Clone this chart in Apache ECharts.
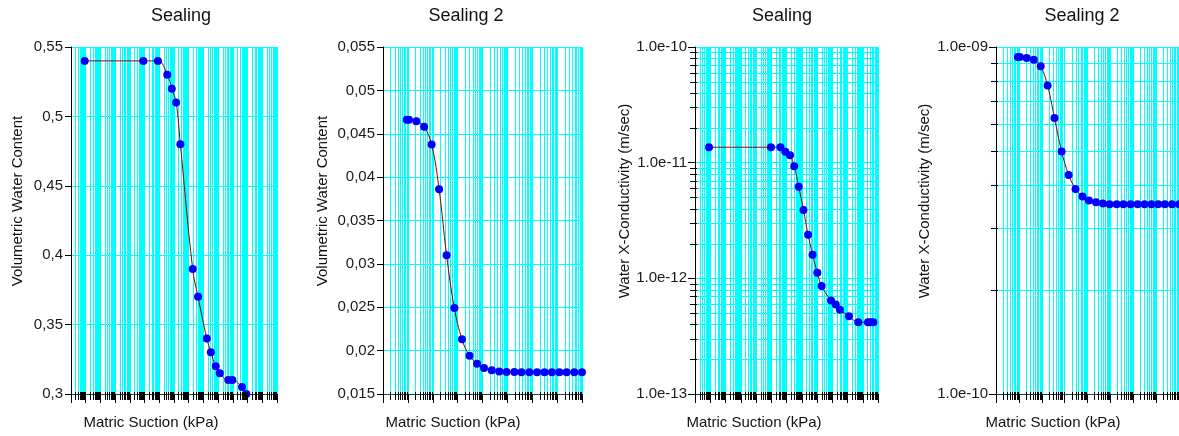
<!DOCTYPE html>
<html><head><meta charset="utf-8">
<script src="https://cdn.jsdelivr.net/npm/echarts@6/dist/echarts.min.js"></script>
<style>html,body{margin:0;padding:0;background:#fff}#c{width:1179px;height:436px}</style>
</head><body><div id="c"></div><script>
// ---------- DATA ----------
const panelTitles = ['Sealing', 'Sealing 2', 'Sealing', 'Sealing 2'];
const xAxisName = 'Matric Suction (kPa)';
const yAxisNames = ['Volumetric Water Content', 'Volumetric Water Content',
  'Water X-Conductivity (m/sec)', 'Water X-Conductivity (m/sec)'];

// Panel 1: Sealing - volumetric water content
const sealingVwcSuction = [0.085, 830, 8100, 35000, 71000, 140000, 270000, 1.86e6, 4.3e6,
  1.7e7, 3.2e7, 6.9e7, 1.3e8, 4.9e8, 9.3e8, 4.2e9, 8.3e9];
const sealingVwc = [0.54, 0.54, 0.54, 0.53, 0.52, 0.51, 0.48, 0.39, 0.37,
  0.34, 0.33, 0.32, 0.315, 0.31, 0.31, 0.305, 0.30];

// Panels 2 & 4: Sealing 2
const sealing2Suction = [0.09, 0.11, 0.22, 0.45, 0.9, 1.8, 3.6, 7.4, 15, 30, 60, 115, 235, 470,
  930, 1900, 3700, 7600, 15500, 31000, 62000, 123000, 240000, 490000, 1000000];
const sealing2Vwc = [0.0466, 0.0466, 0.04645, 0.0458, 0.04375, 0.0386, 0.031, 0.0249, 0.0213,
  0.0194, 0.0185, 0.0180, 0.01775, 0.0176, 0.01755, 0.01755, 0.0175, 0.0175, 0.0175, 0.0175,
  0.0175, 0.0175, 0.0175, 0.0175, 0.0175];
const sealing2K = [9.36e-10, 9.36e-10, 9.30e-10, 9.19e-10, 8.80e-10, 7.74e-10, 6.24e-10, 5.00e-10,
  4.28e-10, 3.90e-10, 3.71e-10, 3.61e-10, 3.57e-10, 3.54e-10, 3.52e-10, 3.52e-10, 3.52e-10,
  3.52e-10, 3.52e-10, 3.52e-10, 3.52e-10, 3.52e-10, 3.52e-10, 3.52e-10, 3.52e-10];

// Panel 3: Sealing - conductivity
const sealingKSuction = [0.083, 950, 4000, 8300, 17000, 32000, 63000, 130000, 260000, 510000,
  1.05e6, 2.0e6, 8.3e6, 1.7e7, 3.2e7, 1.26e8, 5.1e8, 2.2e9, 3.3e9, 4.9e9];
const sealingK = [1.36e-11, 1.36e-11, 1.36e-11, 1.24e-11, 1.16e-11, 9.3e-12, 6.2e-12, 3.9e-12,
  2.38e-12, 1.60e-12, 1.12e-12, 8.6e-13, 6.44e-13, 5.95e-13, 5.35e-13, 4.71e-13, 4.18e-13,
  4.18e-13, 4.18e-13, 4.18e-13];

// Tick labels
const sealingKTickLabels = ['1.0e-13', '1.0e-12', '1.0e-11', '1.0e-10'];
const sealing2KTickLabels = ['1.0e-10', '1.0e-09'];

// ---------- LAYOUT / STYLE ----------
const FONT = "'Liberation Sans', Arial, sans-serif";
const CYAN = '#00ffff';
const TOP = 47, H = 347;
const panels = [
  { left: 71, width: 206, xExp: [-2, 12], x: sealingVwcSuction, y: sealingVwc, ylog: false,
    ymin: 0.3, ymax: 0.55, yint: 0.05, titleX: 181, xNameX: 151, yNameX: 18 },
  { left: 383, width: 199, xExp: [-2, 6], x: sealing2Suction, y: sealing2Vwc, ylog: false,
    ymin: 0.015, ymax: 0.055, yint: 0.005, titleX: 466, xNameX: 453, yNameX: 323 },
  { left: 695, width: 183, xExp: [-2, 10], x: sealingKSuction, y: sealingK, ylog: true,
    yExp: [-13, -10], labels: sealingKTickLabels, titleX: 782, xNameX: 754, yNameX: 625 },
  { left: 996, width: 186, xExp: [-2, 6], x: sealing2Suction, y: sealing2K, ylog: true,
    yExp: [-10, -9], labels: sealing2KTickLabels, titleX: 1082, xNameX: 1053, yNameX: 925 }
];

const commaFmt = v => String(+(+v).toFixed(4)).replace('.', ',');
const HIDDEN = {
  show: false,
  axisLine: { show: false }, axisTick: { show: false }, axisLabel: { show: false },
  splitLine: { show: false }, minorTick: { show: false }, minorSplitLine: { show: false }
};

const grid = [], xAxis = [], yAxis = [], series = [], graphic = [];
panels.forEach((p, i) => {
  grid.push({ left: p.left, top: TOP, width: p.width, height: H, containLabel: false });
  const [xlo, xhi] = p.xExp;
  p.mainX = xAxis.length;
  xAxis.push(Object.assign({ gridIndex: i, type: 'log', logBase: 10, min: Math.pow(10, xlo), max: Math.pow(10, xhi) }, HIDDEN));
  // decade ticks / gridlines
  xAxis.push({ gridIndex: i, type: 'value', position: 'bottom', min: xlo, max: xhi, interval: 1,
    axisLine: { show: true, onZero: false, lineStyle: { color: '#0b4a4a', width: 1 } },
    axisTick: { show: true, length: 9, lineStyle: { color: '#000' } },
    axisLabel: { show: false },
    splitLine: { show: true, lineStyle: { color: CYAN, width: 1 } } });

  if (!p.ylog) {
    p.mainY = yAxis.length;
    yAxis.push({ gridIndex: i, type: 'value', position: 'left', min: p.ymin, max: p.ymax, interval: p.yint,
      axisLine: { show: true, onZero: false, lineStyle: { color: '#000' } },
      axisTick: { show: true, length: 6, lineStyle: { color: '#000' } },
      axisLabel: { fontSize: 15, color: '#1a1a1a', margin: 8, fontFamily: FONT, formatter: commaFmt },
      splitLine: { show: true, lineStyle: { color: CYAN, width: 1 } } });
  } else {
    const [ylo, yhi] = p.yExp;
    p.mainY = yAxis.length;
    yAxis.push(Object.assign({ gridIndex: i, type: 'log', logBase: 10, min: Math.pow(10, ylo), max: Math.pow(10, yhi) }, HIDDEN));
    const labs = p.labels;
    yAxis.push({ gridIndex: i, type: 'value', position: 'left', min: ylo, max: yhi, interval: 1,
      axisLine: { show: true, onZero: false, lineStyle: { color: '#000' } },
      axisTick: { show: true, length: 7, lineStyle: { color: '#000' } },
      axisLabel: { fontSize: 15, color: '#1a1a1a', margin: 8, fontFamily: FONT,
        formatter: v => labs[Math.round(v - ylo)] },
      splitLine: { show: true, lineStyle: { color: CYAN, width: 1 } } });
  }

  series.push({ type: 'line', xAxisIndex: p.mainX, yAxisIndex: p.mainY,
    data: p.x.map((xv, j) => [xv, p.y[j]]),
    smooth: 0.4, symbol: 'circle', symbolSize: 8,
    lineStyle: { color: '#8b0000', width: 1 },
    itemStyle: { color: '#0000ff', borderWidth: 0 },
    z: 5, clip: false });

  graphic.push({ type: 'text', x: p.titleX, y: 16, style: { text: panelTitles[i], font: '18px ' + FONT,
    fill: '#111', textAlign: 'center', textVerticalAlign: 'middle', verticalAlign: 'middle' } });
  graphic.push({ type: 'text', x: p.xNameX, y: 423, style: { text: xAxisName, font: '15px ' + FONT,
    fill: '#111', textAlign: 'center', textVerticalAlign: 'middle', verticalAlign: 'middle' } });
  graphic.push({ type: 'text', x: p.yNameX, y: 201, rotation: Math.PI / 2, style: { text: yAxisNames[i],
    font: '15px ' + FONT, fill: '#111', textAlign: 'center', textVerticalAlign: 'middle', verticalAlign: 'middle' } });
});

const chart = echarts.init(document.getElementById('c'), null, { renderer: 'canvas' });
chart.setOption({
  animation: false,
  backgroundColor: '#fff',
  textStyle: { fontFamily: FONT },
  grid, xAxis, yAxis, series, graphic
});

// Minor log gridlines and ticks (2..9 x 10^k), positioned through the library's log axes
const extra = [];
const crisp = v => Math.round(v) + 0.5;
panels.forEach(p => {
  const gx0 = p.left, gx1 = p.left + p.width, gy0 = TOP, gy1 = TOP + H;
  const [xlo, xhi] = p.xExp;
  for (let k = xlo; k < xhi; k++) {
    for (let m = 2; m <= 9; m++) {
      const px = chart.convertToPixel({ xAxisIndex: p.mainX }, m * Math.pow(10, k));
      if (!isFinite(px) || px < gx0 || px > Math.min(gx1, 1179)) continue;
      const xp = crisp(px);
      extra.push({ type: 'line', z: -1, silent: true, shape: { x1: xp, y1: gy0, x2: xp, y2: gy1 },
        style: { stroke: CYAN, lineWidth: 1 } });
      extra.push({ type: 'line', z: 10, silent: true, shape: { x1: xp, y1: gy1 - 2, x2: xp, y2: gy1 + 6 },
        style: { stroke: '#000', lineWidth: 1 } });
    }
  }
  if (p.ylog) {
    const [ylo, yhi] = p.yExp;
    for (let k = ylo; k < yhi; k++) {
      for (let m = 2; m <= 9; m++) {
        const py = chart.convertToPixel({ yAxisIndex: p.mainY }, m * Math.pow(10, k));
        if (!isFinite(py)) continue;
        const yp = crisp(py);
        extra.push({ type: 'line', z: -1, silent: true, shape: { x1: gx0, y1: yp, x2: gx1, y2: yp },
          style: { stroke: CYAN, lineWidth: 1 } });
        extra.push({ type: 'line', z: 10, silent: true, shape: { x1: gx0 - 5, y1: yp, x2: gx0 + 2, y2: yp },
          style: { stroke: '#000', lineWidth: 1 } });
      }
    }
  }
});
chart.setOption({ graphic: graphic.concat(extra) });
</script></body></html>
